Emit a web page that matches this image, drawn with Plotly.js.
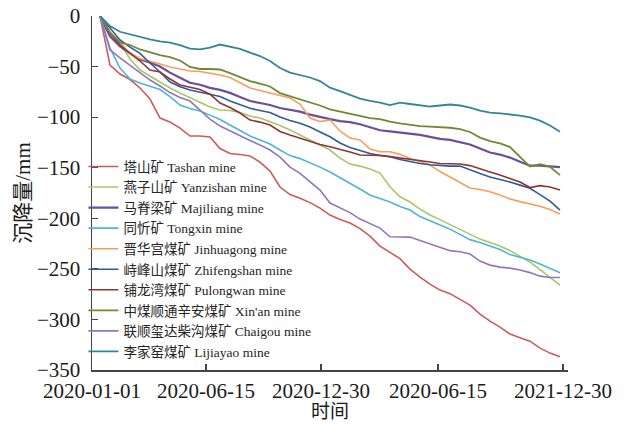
<!DOCTYPE html>
<html>
<head>
<meta charset="utf-8">
<script src="https://cdn.plot.ly/plotly-3.0.1.min.js"></script>
<style>html,body{margin:0;padding:0;background:#fff;}#chart{width:624px;height:424px;}</style>
</head>
<body>
<div id="chart"></div>
<script>
// observation index (equally spaced acquisitions)
const obsIndex = [0,1,2,3,4,5,6,7,8,9,10,11,12,13,14,15,16,17,18,19,20,21,22,23,24,25,26,27,28,29,30,31,32,33,34,35,36,37,38,39,40,41,42,43,44,45,46];
const tickPos = [-0.8, 10.6, 22.1, 33.8, 46.3];
const tickLabels = ["2020-01-01","2020-06-15","2020-12-30","2020-06-15","2021-12-30"];
const xTitle = '时间';
const yTitle = '沉降量/mm';

const mineNames = ["塔山矿 Tashan mine","燕子山矿 Yanzishan mine","马脊梁矿 Majiliang mine","同忻矿 Tongxin mine","晋华宫煤矿 Jinhuagong mine","峙峰山煤矿 Zhifengshan mine","铺龙湾煤矿 Pulongwan mine","中煤顺通辛安煤矿 Xin'an mine","联顺玺达柴沟煤矿 Chaigou mine","李家窑煤矿 Lijiayao mine"];

const tashan = [0,-48.5,-57.4,-62.8,-71.2,-82.1,-100.9,-104.8,-110.8,-118.7,-118.7,-119.7,-131,-136,-137,-138.5,-144.4,-153.3,-169.1,-176.6,-180.3,-184.5,-189.9,-196.8,-201.3,-204.7,-210.2,-217.6,-227.5,-233.4,-239.9,-250.2,-258.2,-265.1,-271,-274.5,-279.9,-285.9,-294.8,-301.7,-307.6,-314.5,-318,-321.5,-328.4,-333.3,-337];
const yanzishan = [0,-15.8,-26.7,-42.5,-53.4,-59.3,-65.3,-71.2,-76.2,-80.6,-85.1,-90,-93,-93.5,-95.5,-98.9,-100.9,-104.4,-108.3,-112.8,-117.7,-122.6,-127.1,-132.5,-140.5,-146.4,-148.4,-151.3,-155.3,-168.8,-178.7,-183.9,-190.9,-196.8,-201.3,-206.2,-211.2,-216.1,-220.6,-224,-227.5,-232,-237.4,-243.3,-250.7,-258.2,-266];
const majiliang = [0,-20,-30,-37,-43,-46,-50,-56,-61,-66,-68,-71,-73,-76,-80,-84,-86,-88,-91,-93,-94.5,-97.5,-100,-102,-104,-105,-107,-110,-113,-114,-115,-116,-117.5,-119.5,-121.5,-122.5,-124.5,-127,-131,-135,-137,-140,-144,-148,-148,-148.5,-149.5];
const tongxin = [0,-31.7,-51.4,-62.3,-66.2,-69.2,-72.7,-79.8,-88,-91.5,-94,-98,-102.4,-107.8,-113.3,-118.7,-122.7,-126.6,-132.5,-138,-141,-144.9,-149.4,-154.3,-159.7,-165.7,-171.1,-177,-180.5,-184,-188.4,-191.9,-198.3,-202.8,-206.7,-210.7,-215.6,-221.1,-224,-227.5,-230.9,-235.9,-238.9,-241.3,-245.3,-249.8,-253.9];
const jinhuagong = [0,-15.8,-25.7,-37.6,-42,-44.5,-47.5,-50.4,-52.4,-54.4,-54.9,-56.4,-58.4,-60.8,-65.8,-71.2,-73.7,-76.2,-78.1,-81.1,-87,-100.9,-104.4,-102.9,-113.7,-120.7,-122.6,-131.5,-134.2,-134.2,-136.8,-140.8,-143.9,-147.4,-153.8,-159,-164.5,-170,-171.6,-173.8,-177,-181,-183.5,-186,-188,-191.4,-195.8];
const zhifengshan = [0,-11.9,-23.7,-30.7,-37,-46.5,-55.4,-65.3,-69.9,-73.2,-75.2,-77.2,-79.6,-84,-87.6,-91.3,-93.5,-95.5,-99.9,-103.4,-106.1,-109.8,-114.7,-119.4,-125.6,-130,-133,-136,-138,-139.2,-141.9,-144.1,-145.9,-147.1,-147.9,-148.4,-148.4,-152.3,-155.8,-159.2,-161.5,-164.2,-167.2,-170.4,-176.6,-183,-191.9];
const pulongwan = [0,-16.8,-28.7,-36.6,-44.5,-53.4,-55.4,-62.3,-68.2,-70.5,-72.7,-77.2,-86,-90.5,-95.9,-102.9,-104.9,-107.8,-114.2,-117.7,-121,-123.9,-127.1,-129.3,-131.6,-134.5,-137.5,-137.5,-137.8,-139,-140.2,-141.5,-143,-144.4,-145.9,-146.4,-146.4,-147.9,-151.3,-154.3,-157.3,-160.7,-164.2,-169.6,-167.7,-169.1,-172.1];
const xinan = [0,-16.8,-26.2,-28.7,-33.1,-36.1,-38.6,-40.6,-44,-50.4,-52.4,-52.4,-52.9,-56.4,-60.3,-64.3,-66.8,-69.7,-76.2,-79.1,-82.1,-85.6,-88.5,-92.3,-94.5,-96.9,-99.4,-100.9,-101.9,-104.5,-106.1,-107.8,-108.8,-109.3,-109.8,-110.5,-111.8,-114.7,-120.2,-123.6,-125.9,-129.6,-139.2,-148.9,-146.4,-149,-157.3];
const chaigou = [0,-33.6,-41.5,-48.5,-56.4,-63.3,-69.2,-75.7,-80.6,-84.1,-93,-101.9,-108.8,-113.7,-118.7,-123.1,-127.6,-132.5,-139.5,-149.4,-155.6,-164.2,-172.1,-184.9,-189.3,-194.4,-200.8,-205.3,-209.7,-218.3,-218.3,-218.6,-222,-225.5,-229,-232,-233.1,-235.4,-242.3,-246.3,-248.3,-249.3,-251.2,-253.7,-257.2,-258.5,-258.5];
const lijiayao = [0,-10,-15.6,-18.3,-20.8,-23,-25,-26.4,-28.7,-32.3,-32.9,-31.2,-28.2,-30.2,-32.6,-36.3,-39.6,-44.5,-51.4,-55.9,-58.4,-60.8,-64.3,-70.9,-74.2,-77.6,-81.6,-84,-85.6,-88,-85.6,-87,-88.5,-89.5,-88.5,-87.5,-88.5,-90.5,-93.5,-95.5,-96.3,-97.2,-98.4,-100.2,-103.4,-108.3,-114.4];

const seriesValues = [tashan, yanzishan, majiliang, tongxin, jinhuagong, zhifengshan, pulongwan, xinan, chaigou, lijiayao];
const colors = ["#cf5a5a","#a6c866","#6b4f9e","#4fb4d6","#f5a05a","#2f5b97","#8e3535","#6f8a35","#9077bd","#34859c"];
const widths = [1.6,1.6,2.2,1.6,1.6,1.6,1.6,1.8,1.6,1.8];

const FONT = 'Liberation Serif, Noto Sans CJK SC, serif';

const traces = seriesValues.map((vals, i) => ({
  type: 'scatter',
  mode: 'lines',
  x: obsIndex,
  y: vals,
  name: mineNames[i],
  legendgroup: 'g' + i,
  line: {color: colors[i], width: widths[i]},
  hoverinfo: 'skip'
}));

const layout = {
  width: 624,
  height: 424,
  margin: {l: 92, r: 56, t: 16, b: 54, pad: 0},
  paper_bgcolor: '#ffffff',
  plot_bgcolor: '#ffffff',
  font: {family: FONT, color: '#1a1a1a', size: 21},
  showlegend: true,
  legend: {
    x: -0.018, xanchor: 'left',
    y: 0.618, yanchor: 'top',
    bgcolor: 'rgba(0,0,0,0)',
    font: {family: FONT, size: 13.5, color: '#262626'},
    tracegroupgap: 0,
    itemwidth: 30
  },
  annotations: [{
    text: xTitle,
    xref: 'paper', yref: 'paper',
    x: 0.5, y: -0.118,
    xanchor: 'center', yanchor: 'middle',
    showarrow: false,
    borderpad: 0,
    font: {family: FONT, size: 19, color: '#1a1a1a'}
  }],
  xaxis: {
    range: [-0.8, 46.8],
    tickmode: 'array',
    tickvals: tickPos,
    ticktext: tickLabels,
    ticks: 'inside',
    ticklen: 6,
    tickcolor: '#444',
    tickwidth: 1.2,
    showline: true,
    linecolor: '#444',
    linewidth: 1.5,
    showgrid: false,
    zeroline: false,
    ticklabelstandoff: 1,
    tickfont: {family: FONT, size: 21, color: '#1a1a1a'},
    automargin: false
  },
  yaxis: {
    range: [-350, 0],
    tickmode: 'array',
    tickvals: [-350,-300,-250,-200,-150,-100,-50,0],
    ticks: 'inside',
    ticklen: 6,
    tickcolor: '#444',
    tickwidth: 1.2,
    showline: true,
    linecolor: '#444',
    linewidth: 1.5,
    showgrid: false,
    zeroline: false,
    ticklabelstandoff: 6,
    tickfont: {family: FONT, size: 21, color: '#1a1a1a'},
    title: {text: yTitle, font: {family: FONT, size: 21, color: '#1a1a1a'}, standoff: 0},
    automargin: false
  }
};

Plotly.newPlot('chart', traces, layout, {staticPlot: true, displayModeBar: false});
</script>
</body>
</html>
